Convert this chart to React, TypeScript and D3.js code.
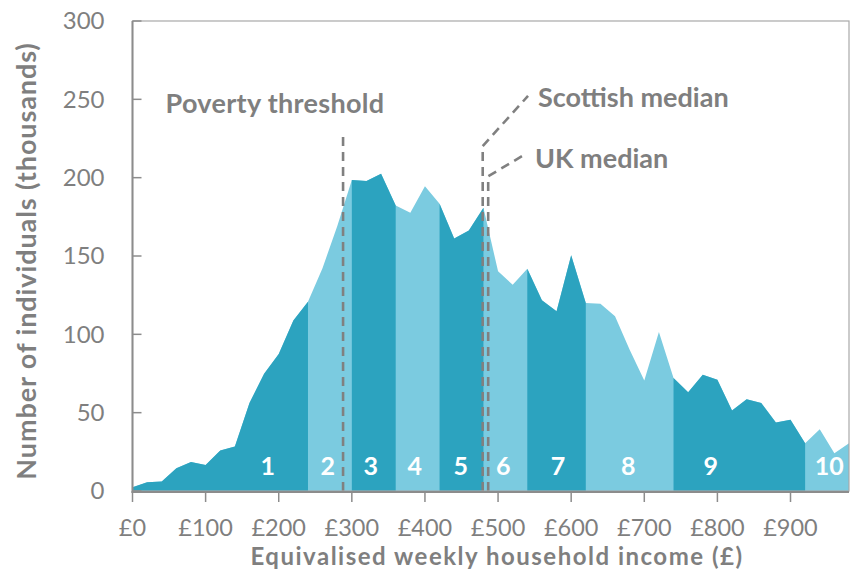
import React, { useEffect } from "react";
import * as d3 from "d3";

// income (£/week) of each sample point and number of individuals (thousands)
const incomes = [
  0, 20, 40, 60, 80, 100, 120, 140, 160, 180, 200, 220, 240, 260, 280, 300, 320, 340, 360, 380,
  400, 420, 440, 460, 480, 500, 520, 540, 560, 580, 600, 620, 640, 660, 680, 700, 720, 740, 760,
  780, 800, 820, 840, 860, 880, 900, 920, 940, 960, 980,
];
const individuals = [
  2.4, 5.6, 6, 14.5, 18.5, 16.6, 25.8, 28.4, 56.1, 74.8, 87.4, 108.9, 120.8, 142.4, 169, 198.5,
  197.8, 202.5, 182.3, 177.6, 194.6, 183.4, 161.2, 166.3, 180.8, 140.2, 131.7, 141.8, 121.7, 114.7,
  150.5, 120, 119.6, 111.5, 90.2, 70.5, 101.5, 72.1, 63.1, 74.2, 71, 51.4, 58.6, 56.1, 43.7, 45.4,
  30.5, 39.4, 24.1, 30.5,
];

// decile band edges and where each decile number sits
const decileEdges = [0, 240, 300, 360, 420, 480, 540, 620, 740, 920, 980];
const decileLabels = ["1", "2", "3", "4", "5", "6", "7", "8", "9", "10"];
const decileLabelAt = [185, 267, 326, 386, 449, 507, 582, 678, 791, 953];

const xTicks = [0, 100, 200, 300, 400, 500, 600, 700, 800, 900];
const yTicks = [0, 50, 100, 150, 200, 250, 300];

// reference lines: [income, value] points, vertical part then leader
const povertyLine = [[288, 0], [288, 229.6]];
const scottishLine = [[479, 0], [479, 220.2], [541, 252.2]];
const ukLine = [[486.5, 0], [486.5, 200.9], [537, 214.9]];

const W = 852;
const H = 570;
const dark = "#2ca3bf";
const light = "#7bcbe0";
const grey = "#7f7f7f";
const axisGrey = "#8c8c8c";
const font = "Lato, 'Open Sans', sans-serif";

export default function App() {
  useEffect(() => {
    document.body.style.margin = "0";
  }, []);

  const x = d3.scaleLinear().domain([0, 980]).range([132.5, 849]);
  const y = d3.scaleLinear().domain([0, 300]).range([491, 21]);

  const points = incomes.map((v, i) => ({ inc: v, n: individuals[i] }));

  const area = d3
    .area<{ inc: number; n: number }>()
    .x((d) => x(d.inc))
    .y0(y(0))
    .y1((d) => y(d.n));

  const line = d3
    .line<number[]>()
    .x((d) => x(d[0]))
    .y((d) => y(d[1]));

  // odd deciles (1,3,5,7,9) are drawn dark over the light full area
  const darkBands = decileLabels
    .map((_, i) => i)
    .filter((i) => i % 2 === 0)
    .map((i) =>
      points.filter((p) => p.inc >= decileEdges[i] && p.inc <= decileEdges[i + 1]),
    );

  const dash = { stroke: "#808080", strokeWidth: 2.6, strokeDasharray: "9,6", fill: "none" };

  return (
    <svg width={W} height={H} style={{ display: "block" }} fontFamily={font}>
      <path d={area(points) ?? ""} fill={light} />
      {darkBands.map((band, i) => (
        <path key={i} d={area(band) ?? ""} fill={dark} />
      ))}

      {decileLabels.map((l, i) => (
        <text
          key={l}
          x={x(decileLabelAt[i])}
          y={475}
          textAnchor="middle"
          fill="#fff"
          fontWeight="bold"
          fontSize={25}
        >
          {l}
        </text>
      ))}

      {/* reference lines */}
      <path d={line(povertyLine) ?? ""} {...dash} />
      <path d={line(scottishLine) ?? ""} {...dash} />
      <path d={line(ukLine) ?? ""} {...dash} />

      <text x={275} y={113} textAnchor="middle" fill={grey} fontWeight="bold" fontSize={27} letterSpacing={0.3}>
        Poverty threshold
      </text>
      <text x={538} y={107} fill={grey} fontWeight="bold" fontSize={27}>
        Scottish median
      </text>
      <text x={535} y={168} fill={grey} fontWeight="bold" fontSize={27}>
        UK median
      </text>

      {/* frame */}
      <rect
        x={x(0)}
        y={y(300)}
        width={x(980) - x(0)}
        height={y(0) - y(300)}
        fill="none"
        stroke="#a8a8a8"
        strokeWidth={1.2}
      />

      {/* y axis */}
      <line x1={x(0)} x2={x(0)} y1={y(300)} y2={y(0) + 2} stroke={axisGrey} strokeWidth={2} />
      {yTicks.map((t) => (
        <g key={t}>
          <line x1={x(0)} x2={x(0) + 9} y1={y(t)} y2={y(t)} stroke={axisGrey} strokeWidth={1.5} />
          <text x={104.5} y={y(t)} dy="0.35em" textAnchor="end" fill={grey} fontSize={24}>
            {t}
          </text>
        </g>
      ))}

      {/* x axis */}
      <line x1={x(0) - 1} x2={x(980)} y1={y(0) + 1} y2={y(0) + 1} stroke={axisGrey} strokeWidth={2} />
      {xTicks.map((t) => (
        <g key={t}>
          <line x1={x(t)} x2={x(t)} y1={y(0) + 2} y2={y(0) + 11} stroke={axisGrey} strokeWidth={1.5} />
          <text x={x(t)} y={536} textAnchor="middle" fill={grey} fontSize={23.5}>
            {`£${t}`}
          </text>
        </g>
      ))}

      <text x={497} y={565} textAnchor="middle" fill={grey} fontWeight="bold" fontSize={24} letterSpacing={1.5}>
        Equivalised weekly household income (£)
      </text>
      <text
        transform="translate(36,261) rotate(-90)"
        textAnchor="middle"
        fill={grey}
        fontWeight="bold"
        fontSize={27}
        letterSpacing={0.9}
      >
        Number of individuals (thousands)
      </text>
    </svg>
  );
}
